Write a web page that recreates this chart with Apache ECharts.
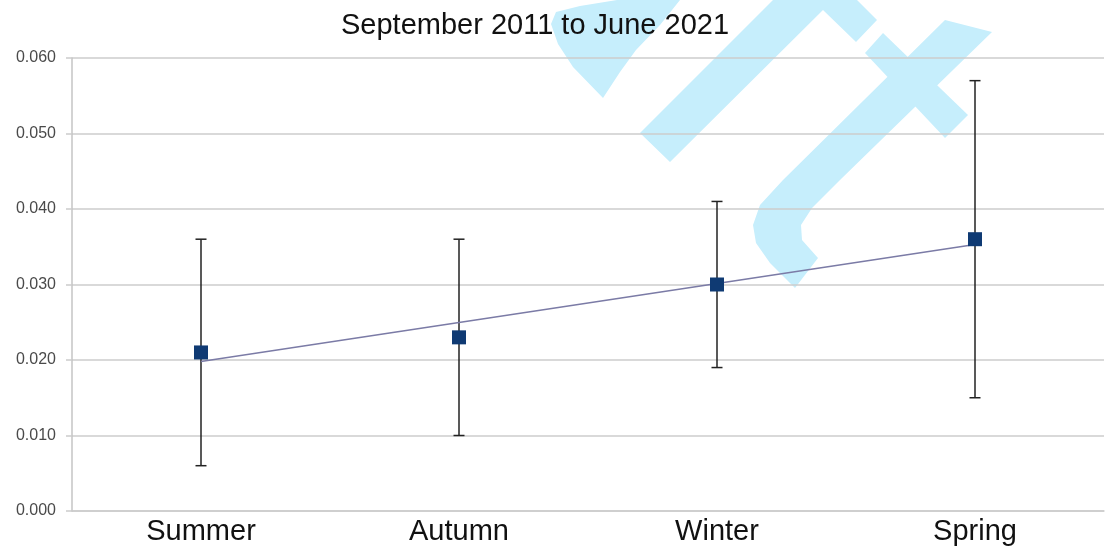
<!DOCTYPE html>
<html lang="en">
<head>
  <meta charset="utf-8">
  <title>September 2011 to June 2021</title>
  <script src="https://cdn.jsdelivr.net/npm/echarts@6/dist/echarts.min.js"></script>
  <style>
    html, body { margin: 0; padding: 0; background: #fff; }
    #container { width: 1106px; height: 550px; }
  </style>
</head>
<body>
<div id="container"></div>
<script>
  // values
  var categories = ['Summer', 'Autumn', 'Winter', 'Spring'];
  var means = [0.021, 0.023, 0.030, 0.036];
  var lows = [0.006, 0.010, 0.019, 0.015];
  var highs = [0.036, 0.036, 0.041, 0.057];
  var trend = [0.0198, null, null, 0.0353];

  var errData = [];
  for (var i = 0; i < categories.length; i++) {
    errData.push([i, lows[i], highs[i]]);
  }

  var myChart = echarts.init(document.getElementById('container'));
  var wm = '#c6eefc';

  var option = {
    animation: false,
    textStyle: { fontFamily: 'Liberation Sans, Arial, sans-serif' },
    title: {
      text: 'September 2011 to June 2021',
      zlevel: 1,
      left: 336,
      top: 6,
      textStyle: { fontSize: 29, fontWeight: 'normal', color: '#111' }
    },
    // watermark, on its own layer behind everything else
    graphic: [
      { type: 'polygon', zlevel: 0, silent: true,
        shape: { points: [[573, 67], [558, 44], [551, 24], [556, 12], [580, 6], [617, 0], [680, 0], [660, 25], [636, 50], [620, 72], [603, 98]] },
        style: { fill: wm } },
      { type: 'polygon', zlevel: 0, silent: true,
        shape: { points: [[640, 133], [773, 0], [857, 0], [877, 20], [856, 42], [823, 10], [670, 162]] },
        style: { fill: wm } },
      { type: 'polygon', zlevel: 0, silent: true,
        shape: { points: [[945, 20], [992, 32], [840, 180], [812, 208], [801, 225], [802, 240], [818, 258], [795, 288], [770, 263], [756, 243], [753, 225], [760, 205], [783, 180]] },
        style: { fill: wm } },
      { type: 'polygon', zlevel: 0, silent: true,
        shape: { points: [[883, 33], [968, 115], [945, 138], [865, 53]] },
        style: { fill: wm } }
    ],
    grid: { left: 72, right: 2, top: 58, bottom: 39 },
    xAxis: {
      type: 'category',
      zlevel: 1,
      data: categories,
      boundaryGap: true,
      axisLine: { show: true, lineStyle: { color: '#cccccc', width: 1.5 } },
      axisTick: { show: false },
      axisLabel: { fontSize: 29, color: '#111', margin: 6 }
    },
    yAxis: {
      type: 'value',
      zlevel: 1,
      min: 0,
      max: 0.06,
      interval: 0.01,
      axisLine: { show: true, lineStyle: { color: '#c4c4c4', width: 1.5 } },
      axisTick: { show: true, length: 6, lineStyle: { color: '#cccccc', width: 1.5 } },
      axisLabel: {
        fontSize: 16,
        color: '#4a4a4a',
        margin: 16,
        formatter: function (v) { return v.toFixed(3); }
      },
      splitLine: { show: true, lineStyle: { color: '#cccccc', width: 1.5 } }
    },
    series: [
      {
        name: 'range',
        type: 'custom',
        zlevel: 1,
        z: 2,
        data: errData,
        renderItem: function (params, api) {
          var x = api.value(0);
          var lo = api.coord([x, api.value(1)]);
          var hi = api.coord([x, api.value(2)]);
          var w = 5.5;
          var st = { stroke: '#222', lineWidth: 1.5 };
          return {
            type: 'group',
            children: [
              { type: 'line', shape: { x1: lo[0], y1: lo[1], x2: hi[0], y2: hi[1] }, style: st },
              { type: 'line', shape: { x1: hi[0] - w, y1: hi[1], x2: hi[0] + w, y2: hi[1] }, style: st },
              { type: 'line', shape: { x1: lo[0] - w, y1: lo[1], x2: lo[0] + w, y2: lo[1] }, style: st }
            ]
          };
        }
      },
      {
        name: 'trend',
        type: 'line',
        zlevel: 1,
        z: 3,
        data: trend,
        connectNulls: true,
        symbol: 'none',
        lineStyle: { color: '#7b7ba6', width: 1.5 }
      },
      {
        name: 'mean',
        type: 'scatter',
        zlevel: 1,
        z: 4,
        data: means,
        symbol: 'rect',
        symbolSize: 14,
        itemStyle: { color: '#0f3a73', opacity: 1 }
      }
    ]
  };

  myChart.setOption(option);
</script>
</body>
</html>
